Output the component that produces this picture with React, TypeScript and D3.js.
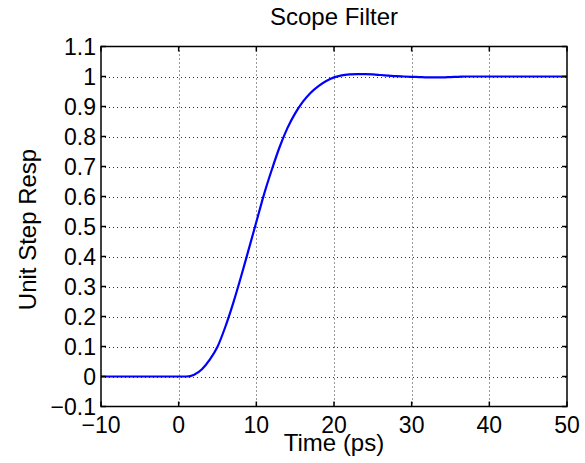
import React from "react";
import * as d3 from "d3";

// Unit step response of the scope filter, time in picoseconds
const timePs = [
  -10, 0, 1, 2, 3, 4, 5, 6, 7, 8, 9, 10, 11, 12, 13, 14, 15, 16, 17, 18, 19,
  20, 21, 22, 23, 24, 25, 26, 27, 28, 29, 30, 31, 32, 33, 34, 35, 36, 37, 40,
  45, 50,
];
const stepResp = [
  0, 0, 0, 0.006, 0.024, 0.056, 0.099, 0.165, 0.243, 0.33, 0.422, 0.515, 0.608,
  0.69, 0.765, 0.828, 0.877, 0.916, 0.946, 0.968, 0.985, 0.997, 1.004, 1.007,
  1.008, 1.008, 1.007, 1.005, 1.003, 1.001, 1.0, 0.999, 0.998, 0.997, 0.997,
  0.997, 0.998, 0.999, 1.0, 1.0, 1.0, 1.0,
];

const xTicks = [-10, 0, 10, 20, 30, 40, 50];
const yTicks = [-0.1, 0, 0.1, 0.2, 0.3, 0.4, 0.5, 0.6, 0.7, 0.8, 0.9, 1, 1.1];

const titleText = "Scope Filter";
const xLabel = "Time (ps)";
const yLabel = "Unit Step Resp";

const W = 585;
const H = 463;
const left = 101;
const right = 567;
const top = 46.5;
const bottom = 406.5;
const font = "'Liberation Sans', Arial, Helvetica, sans-serif";

const fmt = (v: number) => {
  const s = d3.format("~g")(Math.round(v * 1000) / 1000);
  return s.replace("-", "\u2212");
};

export default function App() {
  const x = d3.scaleLinear().domain([-10, 50]).range([left, right]);
  const y = d3.scaleLinear().domain([-0.1, 1.1]).range([bottom, top]);
  const pts: [number, number][] = timePs.map((t, i) => [t, stepResp[i]]);
  const line = d3
    .line<[number, number]>()
    .x((d) => x(d[0]))
    .y((d) => y(d[1]))
    .curve(d3.curveMonotoneX);

  const tickLen = 5;
  return (
    <svg
      width={W}
      height={H}
      style={{ position: "absolute", left: 0, top: 0, background: "#fff" }}
      fontFamily={font}
    >
      <rect x={0} y={0} width={W} height={H} fill="#fff" />
      {/* dotted grid */}
      <g stroke="#333" strokeWidth={1} strokeDasharray="1 3">
        {xTicks.slice(1, -1).map((t) => (
          <line key={"gx" + t} x1={Math.round(x(t)) + 0.5} x2={Math.round(x(t)) + 0.5} y1={top} y2={bottom} />
        ))}
        {yTicks.slice(1, -1).map((t) => (
          <line key={"gy" + t} x1={left} x2={right} y1={Math.round(y(t)) + 0.5} y2={Math.round(y(t)) + 0.5} />
        ))}
      </g>
      {/* curve */}
      <path d={line(pts) ?? ""} fill="none" stroke="#0000ff" strokeWidth={2.2} strokeLinejoin="round" />
      {/* box + inward ticks */}
      <g stroke="#000" strokeWidth={1.5} fill="none">
        <rect x={left} y={top} width={right - left} height={bottom - top} />
        {xTicks.map((t) => (
          <g key={"tx" + t}>
            <line x1={x(t)} x2={x(t)} y1={bottom} y2={bottom - tickLen} />
            <line x1={x(t)} x2={x(t)} y1={top} y2={top + tickLen} />
          </g>
        ))}
        {yTicks.map((t) => (
          <g key={"ty" + t}>
            <line x1={left} x2={left + tickLen} y1={y(t)} y2={y(t)} />
            <line x1={right} x2={right - tickLen} y1={y(t)} y2={y(t)} />
          </g>
        ))}
      </g>
      {/* tick labels */}
      <g fontSize={23} fill="#000">
        {xTicks.map((t) => (
          <text key={"lx" + t} x={x(t)} y={433} textAnchor="middle">
            {fmt(t)}
          </text>
        ))}
        {yTicks.map((t) => (
          <text key={"ly" + t} x={96} y={y(t)} dy="0.35em" textAnchor="end">
            {fmt(t)}
          </text>
        ))}
      </g>
      <text x={(left + right) / 2} y={25} fontSize={24} textAnchor="middle">
        {titleText}
      </text>
      <text x={(left + right) / 2} y={451} fontSize={24} textAnchor="middle">
        {xLabel}
      </text>
      <text
        transform={`translate(36,${(top + bottom) / 2 + 3}) rotate(-90)`}
        fontSize={24}
        textAnchor="middle"
      >
        {yLabel}
      </text>
    </svg>
  );
}
